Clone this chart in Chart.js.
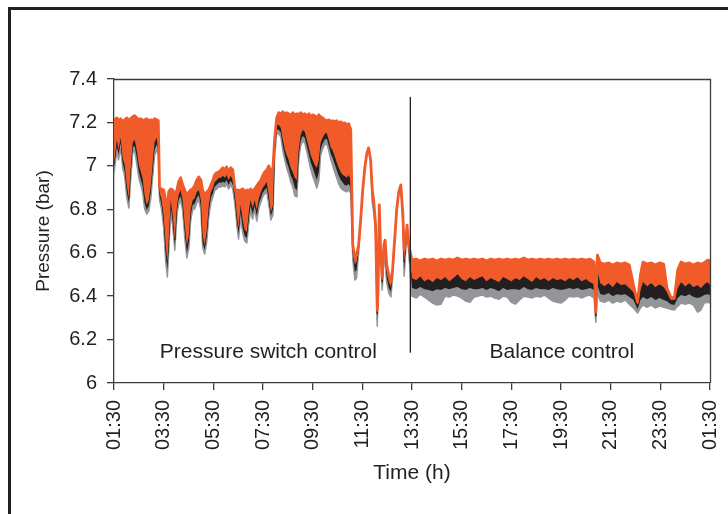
<!DOCTYPE html>
<html>
<head>
<meta charset="utf-8">
<script src="https://cdn.jsdelivr.net/npm/chart.js@4.4.1/dist/chart.umd.min.js"></script>
<style>
  html, body { margin: 0; padding: 0; background: #ffffff; }
  canvas { display: block; }
</style>
</head>
<body>
<canvas id="c" width="728" height="514"></canvas>
<script>
// ---- DATA ----
// time in minutes after 01:30
const timeMin = [
  0,7,11,16,21,26,31,36,40,45,
  50,55,60,65,69,74,79,84,89,94,
  98,103,107,110,115,120,125,129,132,137,
  142,147,152,156,161,166,171,176,181,185,
  190,195,200,205,210,214,219,224,229,234,
  239,243,248,253,258,263,268,272,277,282,
  287,292,297,301,306,311,316,321,326,330,
  335,340,345,350,355,359,364,369,374,379,
  384,388,393,398,403,408,413,417,422,427,
  432,437,442,446,451,456,461,466,471,475,
  480,485,490,495,499,504,509,514,519,524,
  528,533,538,543,548,553,557,562,567,572,
  577,582,586,591,596,601,606,611,615,620,
  624,628,632,636,638,641,644,648,652,655,
  659,664,669,673,678,683,688,693,698,701,
  705,708,712,
  720,730,740,750,760,770,780,790,800,810,
  820,830,840,850,860,870,880,890,900,910,
  920,930,940,950,960,970,980,990,1000,1010,
  1020,1030,1040,1050,1060,1070,1080,1090,1100,1110,
  1120,1130,1140,1150,1160,
  1164,1168,1175,1185,1195,1205,1215,1225,1235,1245,
  1255,1265,1272,1278,1288,1298,1308,1318,1328,1336,
  1345,1354,1362,1370,1380,1390,1400,1410,1418,1426,
  1434,1440
];

// orange series (upper envelope), bar
const orangeHigh = [
  7.212,7.221,7.208,7.217,7.203,7.212,7.221,7.208,7.217,7.226,
  7.231,7.221,7.212,7.217,7.208,7.212,7.217,7.208,7.212,7.208,
  7.217,7.212,7.208,6.898,6.894,6.889,6.843,6.774,6.880,6.894,
  6.889,6.866,6.889,6.926,6.945,6.912,6.889,6.866,6.880,6.889,
  6.894,6.908,6.935,6.949,6.935,6.889,6.866,6.880,6.889,6.912,
  6.935,6.958,6.968,6.972,6.981,6.991,6.981,6.995,6.972,6.991,
  6.981,6.894,6.889,6.885,6.889,6.894,6.880,6.889,6.885,6.894,
  6.880,6.894,6.908,6.922,6.935,6.954,6.972,6.981,7.000,6.972,
  6.991,7.120,7.221,7.245,7.240,7.249,7.235,7.245,7.240,7.231,
  7.245,7.235,7.240,7.235,7.245,7.235,7.240,7.231,7.240,7.226,
  7.235,7.231,7.221,7.235,7.226,7.221,7.212,7.208,7.212,7.203,
  7.208,7.203,7.208,7.198,7.203,7.194,7.198,7.189,7.194,7.166,
  6.635,6.576,6.589,6.635,6.751,6.889,6.991,7.060,7.083,7.028,
  6.889,6.829,6.727,6.336,6.428,6.820,6.612,6.483,6.635,6.658,
  6.543,6.497,6.465,6.520,6.658,6.797,6.880,6.912,6.774,6.612,
  6.658,6.727,6.635,
  6.566,6.571,6.562,6.571,6.566,6.571,6.562,6.571,6.566,6.571,
  6.566,6.576,6.566,6.571,6.566,6.571,6.566,6.571,6.562,6.571,
  6.566,6.571,6.566,6.571,6.566,6.571,6.566,6.576,6.566,6.571,
  6.566,6.571,6.566,6.571,6.566,6.571,6.566,6.571,6.566,6.571,
  6.566,6.571,6.566,6.571,6.557,
  6.326,6.589,6.553,6.548,6.553,6.543,6.553,6.548,6.553,6.543,
  6.451,6.372,6.497,6.557,6.548,6.553,6.543,6.553,6.548,6.437,
  6.396,6.391,6.520,6.557,6.548,6.553,6.543,6.553,6.548,6.553,
  6.566,6.562
];

// black series (upper envelope), bar
const blackHigh = [
  7.014,7.120,7.074,7.129,7.037,7.005,6.912,6.852,6.981,7.106,
  7.120,7.074,7.005,6.972,6.945,6.866,6.820,6.843,6.912,7.028,
  7.111,7.129,7.097,6.880,6.843,6.774,6.635,6.557,6.658,6.843,
  6.774,6.658,6.820,6.866,6.889,6.843,6.727,6.635,6.682,6.797,
  6.843,6.852,6.880,6.889,6.843,6.682,6.635,6.705,6.820,6.880,
  6.898,6.926,6.935,6.945,6.945,6.954,6.945,6.958,6.935,6.954,
  6.935,6.866,6.774,6.714,6.820,6.751,6.705,6.695,6.797,6.843,
  6.806,6.843,6.797,6.852,6.880,6.898,6.912,6.926,6.866,6.788,
  6.820,7.074,7.189,7.189,7.175,7.120,7.074,7.051,7.028,6.991,
  6.972,6.945,6.935,7.074,7.143,7.166,7.157,7.120,7.083,7.051,
  7.028,7.005,6.991,7.028,7.106,7.129,7.148,7.152,7.120,7.083,
  7.074,7.046,7.018,6.991,6.972,6.958,6.954,6.945,6.958,6.935,
  6.612,6.548,6.557,6.626,6.751,6.889,6.991,7.060,7.083,7.028,
  6.871,6.811,6.718,6.317,6.419,6.820,6.612,6.465,6.612,6.612,
  6.511,6.465,6.442,6.511,6.658,6.797,6.880,6.912,6.760,6.557,
  6.640,6.727,6.626,
  6.483,6.474,6.492,6.469,6.479,6.465,6.483,6.474,6.488,6.469,
  6.483,6.502,6.479,6.469,6.488,6.474,6.483,6.492,6.469,6.483,
  6.474,6.465,6.488,6.479,6.469,6.483,6.474,6.492,6.479,6.465,
  6.488,6.474,6.483,6.469,6.483,6.474,6.479,6.469,6.483,6.474,
  6.488,6.469,6.479,6.465,6.455,
  6.308,6.520,6.460,6.446,6.460,6.442,6.465,6.451,6.455,6.437,
  6.419,6.359,6.428,6.465,6.446,6.460,6.442,6.455,6.442,6.419,
  6.382,6.382,6.437,6.465,6.446,6.460,6.442,6.451,6.437,6.455,
  6.465,6.451
];

// black series (lower envelope) = top of the grey band, bar
const blackLow = [
  6.991,7.092,7.051,7.106,7.014,6.972,6.880,6.829,6.958,7.083,
  7.092,7.037,6.972,6.935,6.908,6.829,6.797,6.815,6.880,6.991,
  7.074,7.097,7.074,6.861,6.820,6.741,6.589,6.520,6.626,6.815,
  6.741,6.635,6.797,6.843,6.861,6.815,6.695,6.599,6.649,6.769,
  6.820,6.825,6.852,6.866,6.820,6.649,6.612,6.672,6.788,6.852,
  6.875,6.903,6.912,6.922,6.922,6.926,6.922,6.935,6.912,6.931,
  6.912,6.843,6.746,6.686,6.788,6.714,6.677,6.668,6.764,6.815,
  6.778,6.815,6.769,6.825,6.852,6.875,6.889,6.898,6.843,6.769,
  6.797,7.051,7.166,7.166,7.152,7.092,7.046,7.018,6.991,6.954,
  6.935,6.898,6.889,7.046,7.115,7.138,7.129,7.088,7.051,7.018,
  6.991,6.963,6.935,6.972,7.074,7.101,7.120,7.125,7.092,7.055,
  7.037,7.009,6.981,6.954,6.935,6.922,6.912,6.908,6.917,6.898,
  6.589,6.511,6.520,6.612,6.751,6.889,6.991,7.060,7.083,7.028,
  6.848,6.792,6.705,6.289,6.405,6.820,6.612,6.446,6.585,6.585,
  6.483,6.437,6.419,6.497,6.658,6.797,6.880,6.912,6.746,6.520,
  6.626,6.727,6.612,
  6.437,6.432,6.442,6.432,6.428,6.423,6.432,6.428,6.437,6.432,
  6.437,6.442,6.432,6.428,6.437,6.432,6.432,6.437,6.428,6.437,
  6.432,6.423,6.437,6.428,6.432,6.432,6.428,6.442,6.432,6.428,
  6.437,6.432,6.432,6.428,6.437,6.432,6.428,6.432,6.437,6.432,
  6.437,6.428,6.432,6.437,6.428,
  6.294,6.451,6.409,6.405,6.414,6.400,6.409,6.405,6.409,6.396,
  6.382,6.340,6.382,6.396,6.386,6.396,6.382,6.391,6.382,6.377,
  6.363,6.359,6.391,6.405,6.400,6.409,6.396,6.391,6.396,6.405,
  6.409,6.405
];

// grey series (lower envelope), bar
const greyLow = [
  6.968,7.069,7.028,7.083,6.991,6.949,6.852,6.806,6.931,7.060,
  7.069,7.009,6.945,6.908,6.880,6.802,6.778,6.792,6.852,6.963,
  7.046,7.074,7.051,6.843,6.797,6.714,6.557,6.488,6.599,6.792,
  6.718,6.612,6.774,6.820,6.843,6.792,6.668,6.576,6.622,6.746,
  6.797,6.802,6.829,6.843,6.797,6.626,6.594,6.649,6.764,6.829,
  6.857,6.885,6.894,6.903,6.903,6.908,6.903,6.917,6.894,6.912,
  6.894,6.825,6.723,6.663,6.764,6.691,6.654,6.645,6.741,6.792,
  6.755,6.797,6.746,6.806,6.834,6.857,6.871,6.880,6.820,6.751,
  6.774,7.032,7.148,7.148,7.134,7.069,7.023,6.991,6.963,6.926,
  6.903,6.861,6.857,7.023,7.092,7.115,7.106,7.065,7.023,6.986,
  6.954,6.926,6.898,6.935,7.046,7.078,7.097,7.101,7.069,7.028,
  7.005,6.972,6.945,6.917,6.898,6.889,6.885,6.880,6.889,6.875,
  6.566,6.474,6.483,6.599,6.751,6.889,6.991,7.060,7.083,7.028,
  6.829,6.778,6.695,6.262,6.391,6.820,6.612,6.428,6.566,6.562,
  6.460,6.414,6.396,6.483,6.658,6.797,6.880,6.912,6.732,6.492,
  6.612,6.727,6.599,
  6.400,6.391,6.409,6.396,6.382,6.368,6.359,6.363,6.400,6.396,
  6.405,6.400,6.391,6.377,6.372,6.396,6.400,6.405,6.396,6.400,
  6.391,6.386,6.400,6.396,6.372,6.363,6.382,6.400,6.396,6.391,
  6.400,6.396,6.405,6.391,6.377,6.372,6.368,6.382,6.400,6.396,
  6.400,6.391,6.400,6.405,6.391,
  6.280,6.414,6.377,6.372,6.382,6.368,6.377,6.372,6.382,6.363,
  6.345,6.322,6.345,6.359,6.349,6.359,6.345,6.354,6.349,6.345,
  6.340,6.336,6.354,6.368,6.363,6.368,6.359,6.326,6.336,6.368,
  6.372,6.368
];

// change-over marker between the two control modes
const dividerTime = [716, 716];
const dividerValue = [7.315, 6.142];

// annotations
const noteTexts = ['Pressure switch control', 'Balance control'];
const noteTimes = [373, 1082];
const noteValues = [6.142, 6.142];

// axes
const xTickValues = [0,120,240,360,480,600,720,840,960,1080,1200,1320,1440];
const xTickLabels = ['01:30','03:30','05:30','07:30','09:30','11:30','13:30','15:30','17:30','19:30','21:30','23:30','01:30'];
const yTickValues = [6,6.2,6.4,6.6,6.8,7,7.2,7.4];
const yTickLabels = ['6','6.2','6.4','6.6','6.8','7','7.2','7.4'];

// ---- CHART ----
const FONT = "'Liberation Sans', Arial, Helvetica, sans-serif";
const INK = '#231f20';
const AXIS = '#3c3c3c';
const ORANGE = '#f15a29';
const BLACK = '#231f20';
const GREY = '#939598';

function pts(arr) { return timeMin.map((t, i) => ({ x: t, y: arr[i] })); }

const framePlugin = {
  id: 'frame',
  beforeDraw(chart) {
    const ctx = chart.ctx;
    ctx.save();
    ctx.fillStyle = '#ffffff';
    ctx.fillRect(0, 0, chart.width, chart.height);
    ctx.fillStyle = INK;
    ctx.fillRect(8, 7, chart.width - 8, 3);
    ctx.fillRect(8, 7, 3, chart.height - 7);
    ctx.restore();
  },
  afterDraw(chart) {
    const {ctx, chartArea: a, scales} = chart;
    ctx.save();
    ctx.strokeStyle = AXIS;
    ctx.lineWidth = 1.3;
    ctx.beginPath();
    ctx.moveTo(a.left, a.top + 0.5);
    ctx.lineTo(a.right + 0.5, a.top + 0.5);
    ctx.lineTo(a.right + 0.5, a.bottom);
    ctx.stroke();
    ctx.fillStyle = INK;
    ctx.font = '21px ' + FONT;
    ctx.textAlign = 'center';
    ctx.textBaseline = 'middle';
    noteTexts.forEach((s, i) => {
      ctx.fillText(s, scales.x.getPixelForValue(noteTimes[i]), scales.y.getPixelForValue(noteValues[i]));
    });
    ctx.restore();
  }
};

const common = { pointRadius: 0, pointHoverRadius: 0, tension: 0, borderJoinStyle: 'round' };

new Chart(document.getElementById('c'), {
  type: 'line',
  data: {
    datasets: [
      Object.assign({}, common, {
        label: 'divider',
        data: dividerTime.map((t, i) => ({ x: t, y: dividerValue[i] })),
        borderColor: BLACK, borderWidth: 1.3, fill: false
      }),
      Object.assign({}, common, {
        label: 'orange',
        data: pts(orangeHigh),
        borderColor: ORANGE, backgroundColor: ORANGE, borderWidth: 2.8, fill: '+1'
      }),
      Object.assign({}, common, {
        label: 'black',
        data: pts(blackHigh),
        borderColor: BLACK, backgroundColor: BLACK, borderWidth: 1, fill: '+1'
      }),
      Object.assign({}, common, {
        label: 'grey top',
        data: pts(blackLow),
        borderColor: GREY, backgroundColor: GREY, borderWidth: 1, fill: '+1'
      }),
      Object.assign({}, common, {
        label: 'grey',
        data: pts(greyLow),
        borderColor: GREY, backgroundColor: GREY, borderWidth: 1.5, fill: false
      })
    ]
  },
  options: {
    responsive: false,
    animation: false,
    devicePixelRatio: 1,
    events: [],
    layout: { padding: { top: 79, right: 18, left: 0, bottom: 0 } },
    plugins: { legend: { display: false }, tooltip: { enabled: false } },
    scales: {
      x: {
        type: 'linear', min: 0, max: 1440,
        afterBuildTicks(s) { s.ticks = xTickValues.map(v => ({ value: v })); },
        afterFit(s) { s.height = 131; s.paddingLeft = 0; s.paddingRight = 0; },
        ticks: {
          autoSkip: false, maxRotation: 90, minRotation: 90, padding: 10,
          color: INK, font: { family: FONT, size: 20 },
          callback(v) { const i = xTickValues.indexOf(v); return i >= 0 ? xTickLabels[i] : ''; }
        },
        grid: { drawOnChartArea: false, drawTicks: true, tickLength: 7, color: AXIS, lineWidth: 1.3 },
        border: { display: true, color: AXIS, width: 1.3 },
        title: { display: true, text: 'Time (h)', color: INK, font: { family: FONT, size: 21 }, padding: { top: 0, bottom: 28 } }
      },
      y: {
        type: 'linear', min: 6, max: 7.4,
        afterBuildTicks(s) { s.ticks = yTickValues.map(v => ({ value: v })); },
        afterFit(s) { s.width = 114; s.paddingTop = 0; s.paddingBottom = 0; },
        ticks: {
          padding: 10, color: INK, font: { family: FONT, size: 20 },
          callback(v) { const i = yTickValues.findIndex(u => Math.abs(u - v) < 1e-6); return i >= 0 ? yTickLabels[i] : ''; }
        },
        grid: { drawOnChartArea: false, drawTicks: true, tickLength: 7, color: AXIS, lineWidth: 1.3 },
        border: { display: true, color: AXIS, width: 1.3 },
        title: { display: true, text: 'Pressure (bar)', color: INK, font: { family: FONT, size: 19 }, padding: { top: 32, bottom: 0 } }
      }
    }
  },
  plugins: [framePlugin]
});
</script>
</body>
</html>
